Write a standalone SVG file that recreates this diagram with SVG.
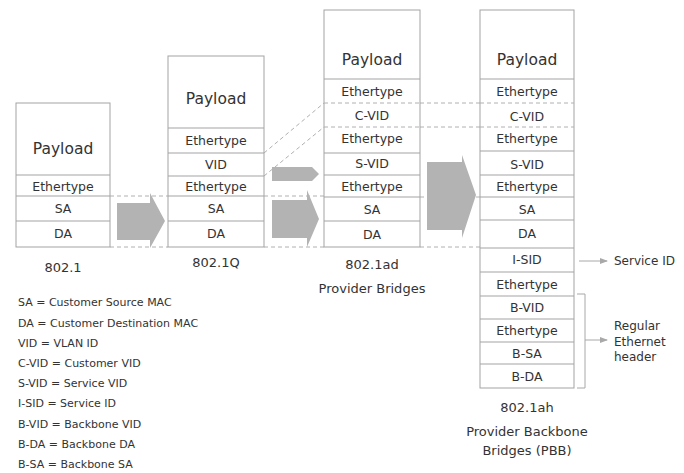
<svg xmlns="http://www.w3.org/2000/svg" width="684" height="473" viewBox="0 0 684 473">
<style>
.box{fill:#fff;stroke:#a3a3a3;stroke-width:1}
.sep{stroke:#a3a3a3;stroke-width:1}
.dash{stroke:#b0b0b0;stroke-width:1;stroke-dasharray:4 3;fill:none}
.blk{fill:#b3b3b3}
.t{font-family:"DejaVu Sans",sans-serif;font-size:12.5px;fill:#333;text-anchor:middle;dominant-baseline:central}
.pl{font-size:15.5px}
.lab{font-size:13px}
.leg{font-family:"DejaVu Sans",sans-serif;font-size:11px;fill:#333;dominant-baseline:central}
.side{font-family:"DejaVu Sans",sans-serif;font-size:12px;fill:#333;dominant-baseline:central}
.thin{stroke:#a8a8a8;stroke-width:1;fill:none}
</style>
<defs>
<marker id="ah" markerWidth="8" markerHeight="6" refX="7" refY="3" orient="auto" markerUnits="userSpaceOnUse">
<path d="M0,0 L8,3 L0,6 Z" fill="#a8a8a8"/>
</marker>
</defs>
<rect width="684" height="473" fill="#fff"/>

<g id="connectors">
<line class="dash" x1="110" y1="196" x2="168" y2="196"/>
<line class="dash" x1="110" y1="247" x2="168" y2="247"/>
<line class="dash" x1="264" y1="196" x2="324" y2="196"/>
<line class="dash" x1="264" y1="247" x2="324" y2="247"/>
<line class="dash" x1="264" y1="153" x2="324" y2="103"/>
<line class="dash" x1="264" y1="176" x2="324" y2="127"/>
<line class="dash" x1="420" y1="103" x2="480" y2="103"/>
<line class="dash" x1="420" y1="127" x2="480" y2="127"/>
<line class="dash" x1="420" y1="197" x2="480" y2="197"/>
<line class="dash" x1="420" y1="247" x2="480" y2="247"/>
<polygon class="blk" points="117,203 150,203 150,193 165,221 150,248 150,240 117,240"/>
<polygon class="blk" points="272,167 312,167 319,174 312,181 272,181"/>
<polygon class="blk" points="272,200 307,200 307,190 319,219 307,247 307,238 272,238"/>
<polygon class="blk" points="427,162 462,162 462,155 476,195 462,238 462,230 427,230"/>
<line class="thin" x1="579" y1="261" x2="607" y2="261" marker-end="url(#ah)"/>
<polyline class="thin" points="577,294 585,294 585,388 577,388"/>
<line class="thin" x1="585" y1="340" x2="607" y2="340" marker-end="url(#ah)"/>
</g>

<g id="frame-8021">
<rect class="box" x="16" y="103" width="94" height="144"/>
<line class="sep" x1="16" y1="175" x2="110" y2="175"/>
<line class="sep" x1="16" y1="196" x2="110" y2="196"/>
<line class="sep" x1="16" y1="221" x2="110" y2="221"/>
<text class="t pl" x="63" y="149">Payload</text>
<text class="t" x="63" y="186">Ethertype</text>
<text class="t" x="63" y="208">SA</text>
<text class="t" x="63" y="233">DA</text>
<text class="t lab" x="63" y="267">802.1</text>
</g>

<g id="frame-8021q">
<rect class="box" x="168" y="56" width="96" height="191"/>
<line class="sep" x1="168" y1="128" x2="264" y2="128"/>
<line class="sep" x1="168" y1="153" x2="264" y2="153"/>
<line class="sep" x1="168" y1="176" x2="264" y2="176"/>
<line class="sep" x1="168" y1="196" x2="264" y2="196"/>
<line class="sep" x1="168" y1="221" x2="264" y2="221"/>
<text class="t pl" x="216" y="99">Payload</text>
<text class="t" x="216" y="140">Ethertype</text>
<text class="t" x="216" y="164">VID</text>
<text class="t" x="216" y="186">Ethertype</text>
<text class="t" x="216" y="208">SA</text>
<text class="t" x="216" y="233">DA</text>
<text class="t lab" x="216" y="262">802.1Q</text>
</g>

<g id="frame-8021ad">
<rect class="box" x="324" y="10" width="96" height="237"/>
<line class="sep" x1="324" y1="79" x2="420" y2="79"/>
<line class="dash" x1="324" y1="103" x2="420" y2="103"/>
<line class="dash" x1="324" y1="127" x2="420" y2="127"/>
<line class="sep" x1="324" y1="153" x2="420" y2="153"/>
<line class="sep" x1="324" y1="175" x2="420" y2="175"/>
<line class="sep" x1="324" y1="197" x2="420" y2="197"/>
<line class="sep" x1="324" y1="221" x2="420" y2="221"/>
<text class="t pl" x="372" y="60">Payload</text>
<text class="t" x="372" y="91">Ethertype</text>
<text class="t" x="372" y="115">C-VID</text>
<text class="t" x="372" y="138">Ethertype</text>
<text class="t" x="372" y="163">S-VID</text>
<text class="t" x="372" y="186">Ethertype</text>
<text class="t" x="372" y="209">SA</text>
<text class="t" x="372" y="234">DA</text>
<text class="t lab" x="372" y="264">802.1ad</text>
<text class="t lab" x="372" y="288">Provider Bridges</text>
</g>

<g id="frame-8021ah">
<rect class="box" x="480" y="10" width="94" height="378"/>
<line class="sep" x1="480" y1="79" x2="574" y2="79"/>
<line class="dash" x1="480" y1="103" x2="574" y2="103"/>
<line class="dash" x1="480" y1="127" x2="574" y2="127"/>
<line class="sep" x1="480" y1="151" x2="574" y2="151"/>
<line class="sep" x1="480" y1="175" x2="574" y2="175"/>
<line class="sep" x1="480" y1="197" x2="574" y2="197"/>
<line class="sep" x1="480" y1="220" x2="574" y2="220"/>
<line class="sep" x1="480" y1="248" x2="574" y2="248"/>
<line class="sep" x1="480" y1="272" x2="574" y2="272"/>
<line class="sep" x1="480" y1="296" x2="574" y2="296"/>
<line class="sep" x1="480" y1="319" x2="574" y2="319"/>
<line class="sep" x1="480" y1="342" x2="574" y2="342"/>
<line class="sep" x1="480" y1="364" x2="574" y2="364"/>
<text class="t pl" x="527" y="60">Payload</text>
<text class="t" x="527" y="91">Ethertype</text>
<text class="t" x="527" y="116">C-VID</text>
<text class="t" x="527" y="138">Ethertype</text>
<text class="t" x="527" y="164">S-VID</text>
<text class="t" x="527" y="186">Ethertype</text>
<text class="t" x="527" y="209">SA</text>
<text class="t" x="527" y="233">DA</text>
<text class="t" x="527" y="259">I-SID</text>
<text class="t" x="527" y="284">Ethertype</text>
<text class="t" x="527" y="307">B-VID</text>
<text class="t" x="527" y="330">Ethertype</text>
<text class="t" x="527" y="353">B-SA</text>
<text class="t" x="527" y="376">B-DA</text>
<text class="t lab" x="527" y="407">802.1ah</text>
<text class="t lab" x="527" y="431">Provider Backbone</text>
<text class="t lab" x="527" y="450">Bridges (PBB)</text>
</g>

<g id="annotations">
<text class="side" x="614" y="261">Service ID</text>
<text class="side" x="614" y="326">Regular</text>
<text class="side" x="614" y="342">Ethernet</text>
<text class="side" x="614" y="357">header</text>
</g>

<g id="legend">
<text class="leg" x="18" y="302">SA = Customer Source MAC</text>
<text class="leg" x="18" y="323">DA = Customer Destination MAC</text>
<text class="leg" x="18" y="343">VID = VLAN ID</text>
<text class="leg" x="18" y="363">C-VID = Customer VID</text>
<text class="leg" x="18" y="383">S-VID = Service VID</text>
<text class="leg" x="18" y="403">I-SID = Service ID</text>
<text class="leg" x="18" y="424">B-VID = Backbone VID</text>
<text class="leg" x="18" y="444">B-DA = Backbone DA</text>
<text class="leg" x="18" y="464">B-SA = Backbone SA</text>
</g>
</svg>
